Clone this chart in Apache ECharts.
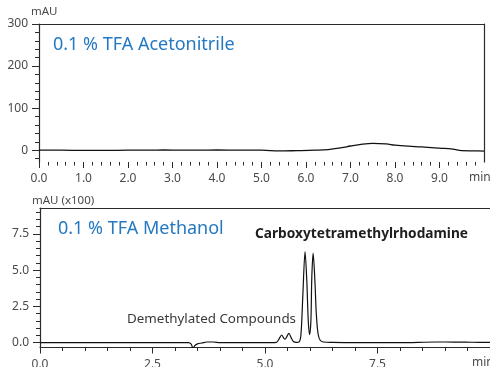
<!DOCTYPE html>
<html>
<head>
<meta charset="utf-8">
<script src="https://cdn.jsdelivr.net/npm/echarts@6/dist/echarts.min.js"></script>
<style>
  html, body { margin: 0; padding: 0; background: #fff; }
  #chart { width: 490px; height: 367px; }
</style>
</head>
<body>
<div id="chart"></div>
<script>
// Chromatogram 1: 0.1 % TFA in acetonitrile (retention time in min, absorbance in mAU)
const acnTime  = [0, 0.5, 1.0, 1.5, 2.0, 2.5, 2.8, 3.2, 3.6, 4.0, 4.5, 5.0, 5.4, 5.8, 6.2, 6.5, 6.8, 7.0, 7.2, 7.5, 7.8, 8.0, 8.3, 8.6, 9.0, 9.3, 9.5, 9.8, 10.0];
const acnSignal = [0, 0, -0.5, -0.5, 0, 0, 0.5, 0, 0, 0.5, 0, 0, -1.7, -1, 0, 1.5, 6, 10, 13.5, 16.5, 15, 12, 9.5, 8, 5, 2.5, -1, -1.5, -2];

// Chromatogram 2: 0.1 % TFA in methanol (retention time in min, absorbance in mAU x100)
const meohTime = [0, 1.0, 2.0, 3.0, 3.3, 3.36, 3.4, 3.44, 3.5, 3.6, 3.7, 3.85, 4.0, 5.0, 5.25, 5.31, 5.37, 5.42, 5.45, 5.49, 5.53, 5.58, 5.63, 5.7, 5.76, 5.8, 5.84, 5.89, 5.93, 5.96, 5.99, 6.02, 6.04, 6.07, 6.11, 6.14, 6.18, 6.23, 6.3, 6.5, 7.0, 8.0, 8.8, 9.0, 9.3, 9.6, 10.0];
const meohSignal = [0, 0, 0, 0, 0, -0.1, -0.38, -0.2, -0.08, -0.02, 0.05, 0.05, 0, 0, 0.02, 0.25, 0.53, 0.3, 0.25, 0.45, 0.65, 0.35, 0.08, 0.02, 0.05, 0.6, 3.2, 6.28, 4.2, 1.6, 0.55, 1.5, 4.5, 6.17, 4.2, 2.0, 0.6, 0.15, 0.05, 0.02, 0, 0, 0.05, 0.05, 0.04, 0.03, 0.02];

// Axis ticks and labels
const acnYTicks = [0, 100, 200, 300];
const acnXTicks = [0, 1, 2, 3, 4, 5, 6, 7, 8, 9];
const meohYTicks = [0, 2.5, 5.0, 7.5];
const meohXTicks = [0, 2.5, 5.0, 7.5];

function range(start, stop, step, skipEvery) {
  const out = [];
  for (let i = 0; start + i * step <= stop + 1e-9; i++) {
    if (skipEvery && i % skipEvery === 0) continue;
    out.push(+(start + i * step).toFixed(4));
  }
  return out;
}
const acnYMinor = [-20].concat(range(0, 300, 20, 5));
const acnXMinor = range(0, 10, 0.2, 5);
const meohYMinor = range(0, 9.25, 0.5, 5);
const meohXMinor = range(0, 10, 0.5, 5);

const FONT = 'Noto Sans';
const INK = '#2b2b2b';
const LABEL = '#4a4a4a';
const BLUE = '#2479c2';

const chart = echarts.init(document.getElementById('chart'), null, { renderer: 'canvas' });

function xMajor(grid, ticks, fmt, margin, showLine) {
  return {
    type: 'value', gridIndex: grid, min: 0, max: 10, position: 'bottom',
    axisLine: { show: showLine, onZero: false, lineStyle: { color: INK, width: 1 } },
    axisTick: { show: true, customValues: ticks, length: 6, lineStyle: { color: INK } },
    axisLabel: { customValues: ticks, formatter: fmt, margin: margin, color: LABEL, fontSize: 12, fontFamily: FONT },
    splitLine: { show: false }
  };
}
function xMinor(grid, ticks) {
  return {
    type: 'value', gridIndex: grid, min: 0, max: 10, position: 'bottom',
    axisLine: { show: false, onZero: false },
    axisTick: { show: true, customValues: ticks, length: 3.5, lineStyle: { color: INK } },
    axisLabel: { show: false }, splitLine: { show: false }
  };
}
function xTopFrame(grid) {
  return {
    type: 'value', gridIndex: grid, min: 0, max: 10, position: 'top',
    axisLine: { show: true, onZero: false, lineStyle: { color: INK, width: 1.2 } },
    axisTick: { show: false }, axisLabel: { show: false }, splitLine: { show: false }
  };
}
function yMajor(grid, min, max, ticks, fmt, name) {
  return {
    type: 'value', gridIndex: grid, min: min, max: max, position: 'left',
    name: name, nameLocation: 'end', nameGap: 1,
    nameTextStyle: { color: LABEL, fontSize: 11.5, fontFamily: FONT, align: 'left', padding: [0, 0, 0, -8] },
    axisLine: { show: true, onZero: false, lineStyle: { color: INK, width: 1.2 } },
    axisTick: { show: true, customValues: ticks, length: 7, lineStyle: { color: INK } },
    axisLabel: { customValues: ticks, formatter: fmt, margin: 11, color: LABEL, fontSize: 12, fontFamily: FONT },
    splitLine: { show: false }
  };
}
function yMinor(grid, min, max, ticks) {
  return {
    type: 'value', gridIndex: grid, min: min, max: max, position: 'left',
    axisLine: { show: false, onZero: false },
    axisTick: { show: true, customValues: ticks, length: 4, lineStyle: { color: INK } },
    axisLabel: { show: false }, splitLine: { show: false }
  };
}

const titleStyle = (color, size, weight) => ({ color: color, fontSize: size, fontWeight: weight, fontFamily: FONT });

chart.setOption({
  animation: false,
  backgroundColor: '#fff',
  textStyle: { fontFamily: FONT },
  grid: [
    { left: 39, top: 24, right: 6, bottom: 205, outerBoundsMode: 'none', containLabel: false },
    { left: 40, top: 208, right: 0, bottom: 19.5, outerBoundsMode: 'none', containLabel: false }
  ],
  title: [
    { text: '0.1 % TFA Acetonitrile', left: 53, top: 36, padding: 0,
      textStyle: titleStyle(BLUE, 18, 'normal') },
    { text: '0.1 % TFA Methanol', left: 58, top: 220, padding: 0,
      textStyle: titleStyle(BLUE, 18, 'normal') },
    { text: 'Carboxytetramethylrhodamine', left: 255, top: 227, padding: 0,
      textStyle: titleStyle('#1e1e1e', 13.7, 'bold') },
    { text: 'Demethylated Compounds', left: 127, top: 313, padding: 0,
      textStyle: titleStyle('#3a3a3a', 13.4, 'normal') }
  ],
  graphic: [
    { type: 'text', left: 469, top: 172, style: { text: 'min', fill: LABEL, font: '12px "Noto Sans"' } },
    { type: 'text', left: 472, top: 357, style: { text: 'min', fill: LABEL, font: '12px "Noto Sans"' } }
  ],
  xAxis: [
    xMajor(0, acnXTicks, v => v.toFixed(1), 11, false),  // 0
    xMinor(0, acnXMinor),                                // 1
    xTopFrame(0),                                        // 2
    xMajor(1, meohXTicks, v => v.toFixed(1), 11, true),  // 3
    xMinor(1, meohXMinor),                               // 4
    xTopFrame(1)                                         // 5
  ],
  yAxis: [
    yMajor(0, -28, 300, acnYTicks, v => String(v), 'mAU'),                 // 0
    yMinor(0, -28, 300, acnYMinor),                                        // 1
    { type: 'value', gridIndex: 0, min: -28, max: 300, position: 'right',  // 2: right frame
      axisLine: { show: true, onZero: false, lineStyle: { color: INK, width: 1.2 } },
      axisTick: { show: false }, axisLabel: { show: false }, splitLine: { show: false } },
    yMajor(1, -0.33, 9.28, meohYTicks, v => v.toFixed(1), 'mAU (x100)'),   // 3
    yMinor(1, -0.33, 9.28, meohYMinor)                                     // 4
  ],
  series: [
    {
      type: 'line', xAxisIndex: 0, yAxisIndex: 0,
      data: acnTime.map((t, i) => [t, acnSignal[i]]),
      showSymbol: false, smooth: 0.4,
      lineStyle: { color: '#111', width: 1.3 }
    },
    {
      type: 'line', xAxisIndex: 3, yAxisIndex: 3,
      data: meohTime.map((t, i) => [t, meohSignal[i]]),
      showSymbol: false, smooth: 0.3,
      lineStyle: { color: '#111', width: 1.2 }
    }
  ]
});
</script>
</body>
</html>
